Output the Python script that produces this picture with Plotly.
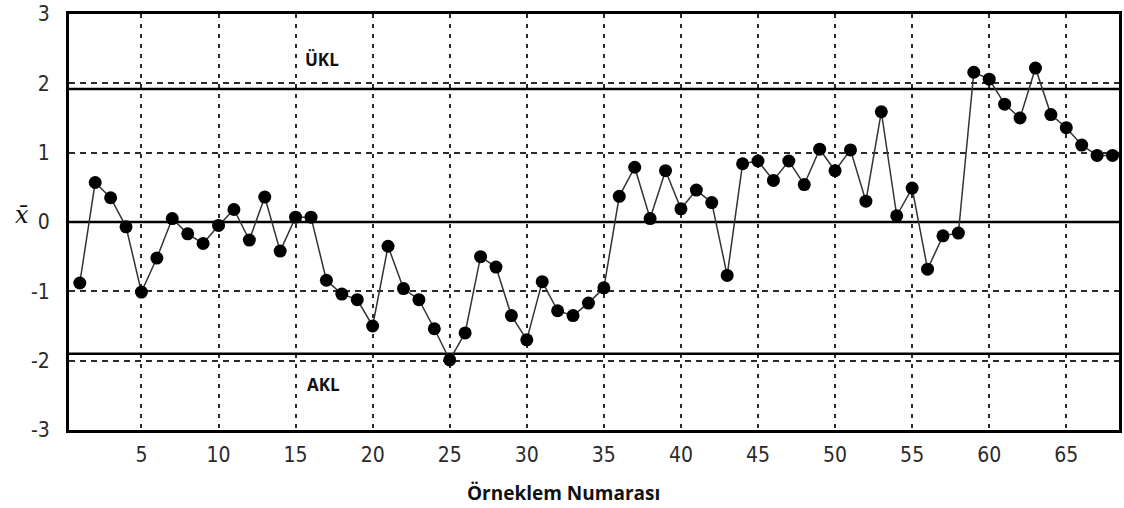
import plotly.graph_objects as go

sample_no = list(range(1, 69))
xbar = [-0.88, 0.57, 0.35, -0.07, -1.01, -0.52, 0.05, -0.17, -0.31, -0.05,
        0.18, -0.26, 0.36, -0.42, 0.07, 0.07, -0.84, -1.04, -1.12, -1.50,
        -0.35, -0.96, -1.12, -1.54, -1.99, -1.60, -0.50, -0.65, -1.35, -1.70,
        -0.86, -1.28, -1.35, -1.17, -0.95, 0.37, 0.79, 0.05, 0.74, 0.19,
        0.46, 0.28, -0.77, 0.84, 0.88, 0.60, 0.88, 0.54, 1.05, 0.74,
        1.04, 0.30, 1.59, 0.09, 0.49, -0.68, -0.20, -0.16, 2.16, 2.06,
        1.70, 1.50, 2.22, 1.55, 1.36, 1.11, 0.96, 0.96]

center_line = 0.0
ukl = 1.92
akl = -1.90

x_ticks = [5, 10, 15, 20, 25, 30, 35, 40, 45, 50, 55, 60, 65]
y_ticks = [-3, -2, -1, 0, 1, 2, 3]
y_ticktext = ["-3", "-2", "-1", "0", "1", "2", "3"]

x_range = [0.3, 68.42]

fig = go.Figure()

for yv in [ukl, center_line, akl]:
    fig.add_trace(go.Scatter(
        x=x_range, y=[yv, yv], mode="lines",
        line=dict(color="black", width=2.5),
        hoverinfo="skip", showlegend=False))

fig.add_trace(go.Scatter(
    x=sample_no, y=xbar, mode="lines+markers",
    line=dict(color="#333333", width=1.5),
    marker=dict(color="black", size=13),
    showlegend=False))

tick_font = dict(family="Liberation Sans Narrow, DejaVu Sans Condensed, Liberation Sans",
                 size=21, color="#2a2a2a")

ML, MR, MT, MB = 69, 2, 13, 78
plot_w = 1124 - ML - MR
plot_h = 508 - MT - MB

def px_x(px):
    return (px - ML) / plot_w

def px_y(py):
    return (508 - MB - py) / plot_h

fig.update_layout(
    width=1124, height=508,
    margin=dict(l=ML, r=MR, t=MT, b=MB),
    paper_bgcolor="white", plot_bgcolor="white",
    showlegend=False,
    xaxis=dict(
        range=x_range, tickvals=x_ticks, ticktext=[str(v) for v in x_ticks],
        showgrid=True, gridcolor="#2a2a2a", gridwidth=1.6, griddash="4px,6px",
        showline=True, linecolor="black", linewidth=3, mirror=True,
        zeroline=False, ticks="", tickfont=tick_font, ticklabelstandoff=4,
    ),
    yaxis=dict(
        range=[-3, 3], tickvals=y_ticks, ticktext=y_ticktext,
        showgrid=True, gridcolor="#2a2a2a", gridwidth=1.6, griddash="6px,5px",
        showline=True, linecolor="black", linewidth=3, mirror=True,
        zeroline=False, ticks="", tickfont=tick_font, ticklabelstandoff=12,
    ),
    annotations=[
        dict(text="<b>ÜKL</b>", x=15.45, y=2.35, xref="x", yref="y",
             xanchor="left", yanchor="middle", showarrow=False,
             font=dict(family="Open Sans", size=17, color="#111111")),
        dict(text="<b>AKL</b>", x=15.6, y=-2.35, xref="x", yref="y",
             xanchor="left", yanchor="middle", showarrow=False,
             font=dict(family="Open Sans", size=17, color="#111111")),
        dict(text="<b>Örneklem Numarası</b>", x=px_x(565), y=px_y(493),
             xref="paper", yref="paper", xanchor="center", yanchor="middle",
             showarrow=False,
             font=dict(family="Open Sans", size=19, color="#111111")),
        dict(text="<i>x\u0304</i>", x=px_x(22), y=px_y(214),
             xref="paper", yref="paper", xanchor="center", yanchor="middle",
             showarrow=False,
             font=dict(family="DejaVu Serif", size=24, color="#111111")),
    ],
)

fig.write_html("out.html")
